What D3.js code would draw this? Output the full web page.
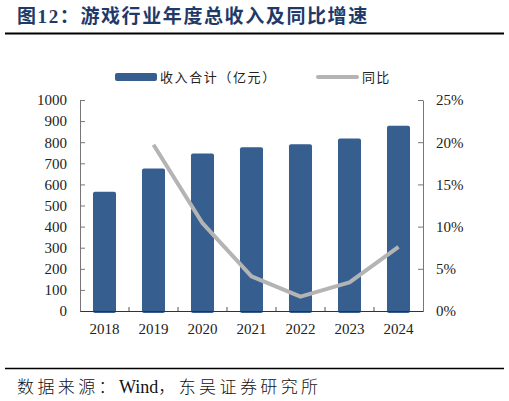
<!DOCTYPE html>
<html><head><meta charset="utf-8">
<script src="https://cdn.jsdelivr.net/npm/d3@7"></script>
<style>body{margin:0;background:#fff;} svg{display:block;}</style>
</head><body>
<svg id="c" width="509" height="401"></svg>
<script>
const categories = ["2018","2019","2020","2021","2022","2023","2024"];
const revenue = [565, 675, 747, 776, 790, 818, 878];
const yoyYears = ["2019","2020","2021","2022","2023","2024"];
const yoy = [19.7, 10.4, 4.1, 1.7, 3.4, 7.6];
const leftTicks = [0,100,200,300,400,500,600,700,800,900,1000];
const rightTicks = [0,5,10,15,20,25];

const svg = d3.select("#c");
const m = {l:80, r:423, t:100, b:311};
const serif = "'Liberation Serif','Times New Roman',serif";
const cjk = "'Noto Sans CJK SC',sans-serif";

// title
svg.append("text").attr("x",17).attr("y",23)
  .attr("font-family",cjk).attr("font-weight","bold").attr("font-size",19)
  .attr("fill","#1F3A68").attr("letter-spacing",1.6)
  .selectAll("tspan").data([["图",cjk],["12",serif],["：游戏行业年度总收入及同比增速",cjk]])
  .join("tspan").attr("font-family",d=>d[1]).text(d=>d[0]);
svg.append("line").attr("x1",5).attr("x2",504).attr("y1",33.5).attr("y2",33.5)
  .attr("stroke","#000").attr("stroke-width",2.2);
svg.append("line").attr("x1",5).attr("x2",504).attr("y1",368.5).attr("y2",368.5)
  .attr("stroke","#000").attr("stroke-width",1.6);
svg.append("text").attr("x",17).attr("y",393).attr("font-size",17).attr("fill","#111")
  .selectAll("tspan").data([["数据来源：",cjk,3.4],["Wind",serif,0],["，东吴证券研究所",cjk,3.4]])
  .join("tspan").attr("font-family",d=>d[1]).attr("letter-spacing",d=>d[2])
  .attr("font-size",(d)=>d[1]===serif?18:17).attr("font-weight",300).text(d=>d[0]);

const x = d3.scaleBand().domain(categories).range([m.l,m.r]).paddingInner(0.53).paddingOuter(0.265);
const xc = d3.scaleBand().domain(categories).range([m.l,m.r]);
const yL = d3.scaleLinear().domain([0,1000]).range([m.b,m.t]);
const yR = d3.scaleLinear().domain([0,25]).range([m.b,m.t]);

// bars
svg.append("g").selectAll("rect").data(categories).join("rect")
  .attr("x",d=>x(d)).attr("width",x.bandwidth())
  .attr("y",(d,i)=>yL(revenue[i])).attr("height",(d,i)=>m.b-yL(revenue[i])+2)
  .attr("rx",2).attr("fill","#365E8F");

// line
const line = d3.line().x((d,i)=>xc(yoyYears[i])+xc.bandwidth()/2).y(d=>yR(d));
svg.append("path").datum(yoy).attr("d",line).attr("fill","none")
  .attr("stroke","#B4B4B4").attr("stroke-width",4).attr("stroke-linejoin","round");

// axes
const axL = svg.append("g").attr("transform",`translate(${m.l},0)`)
  .call(d3.axisLeft(yL).tickValues(leftTicks).tickFormat(d3.format("d")).tickSizeInner(-5).tickSizeOuter(0).tickPadding(13));
const axR = svg.append("g").attr("transform",`translate(${m.r},0)`)
  .call(d3.axisRight(yR).tickValues(rightTicks).tickSizeInner(-5).tickSizeOuter(0).tickPadding(13).tickFormat(d=>d+"%"));
const axX = svg.append("g").attr("transform",`translate(0,${m.b})`)
  .call(d3.axisBottom(xc).tickSize(0).tickPadding(12));
// category boundary ticks
svg.append("g").selectAll("line").data(categories.slice(1)).join("line")
  .attr("x1",d=>xc(d)).attr("x2",d=>xc(d)).attr("y1",m.b).attr("y2",m.b-4)
  .attr("stroke","#555");
[axL,axR].forEach(a=>{a.select(".domain").attr("stroke","#777");a.selectAll(".tick line").attr("stroke","#777");});
axX.select(".domain").attr("stroke","#333").attr("stroke-width",1.2);
[axL,axR,axX].forEach(a=>a.selectAll("text").attr("font-family",serif).attr("font-size",15).attr("fill","#222"));

// legend
const lg = svg.append("g");
lg.append("rect").attr("x",115).attr("y",73).attr("width",42).attr("height",8).attr("rx",2).attr("fill","#365E8F");
lg.append("text").attr("x",160).attr("y",82).attr("font-family",cjk).attr("font-size",13).attr("letter-spacing",1.6).attr("fill","#222").text("收入合计（亿元）");
lg.append("line").attr("x1",318).attr("x2",357).attr("y1",77).attr("y2",77).attr("stroke","#B4B4B4").attr("stroke-width",4).attr("stroke-linecap","round");
lg.append("text").attr("x",362).attr("y",82).attr("font-family",cjk).attr("font-size",13).attr("letter-spacing",1.2).attr("fill","#222").text("同比");
</script>
</body></html>
